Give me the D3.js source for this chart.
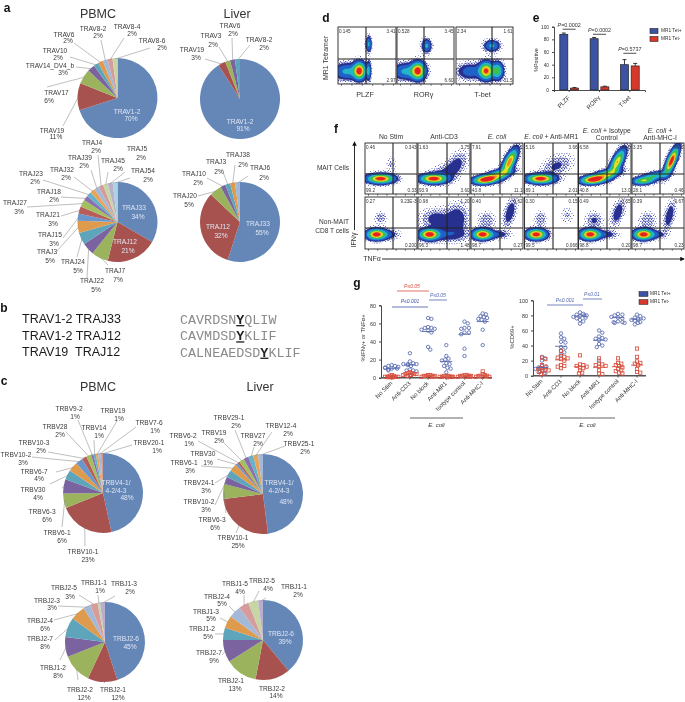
<!DOCTYPE html>
<html><head><meta charset="utf-8">
<script src="https://cdn.jsdelivr.net/npm/d3@7/dist/d3.min.js"></script>
<style>
html,body{margin:0;padding:0;background:#fff}
svg{display:block;filter:blur(0.35px)}
text{font-family:"Liberation Sans",Arial,sans-serif;fill:#333}
</style></head><body>
<svg id="c" width="685" height="702" viewBox="0 0 685 702"></svg>
<script>
// ---------- DATA: pies ----------
const travPbmcNames=["TRAV1-2","TRAV19","TRAV17","TRAV14_DV4_b","TRAV10","TRAV6","TRAV8-2","TRAV8-4","TRAV8-6"];
const travPbmcValues=[70,11,6,3,2,2,2,2,2];
const travLiverNames=["TRAV1-2","TRAV19","TRAV3","TRAV6","TRAV8-2"];
const travLiverValues=[91,3,2,2,2];
const trajPbmcNames=["TRAJ33","TRAJ12","TRAJ7","TRAJ22","TRAJ24","TRAJ3","TRAJ15","TRAJ21","TRAJ27","TRAJ18","TRAJ23","TRAJ32","TRAJ39","TRAJ4","TRAJ45","TRAJ5","TRAJ54"];
const trajPbmcValues=[34,21,7,5,5,5,3,3,3,2,2,2,2,2,2,2,2];
const trajLiverNames=["TRAJ33","TRAJ12","TRAJ20","TRAJ10","TRAJ3","TRAJ38","TRAJ6"];
const trajLiverValues=[55,32,5,2,2,2,2];
const trbvPbmcNames=["TRBV4-1/\n4-2/4-3","TRBV10-1","TRBV6-1","TRBV6-3","TRBV30","TRBV6-7","TRBV10-2","TRBV10-3","TRBV28","TRBV9-2","TRBV14","TRBV19","TRBV7-6","TRBV20-1"];
const trbvPbmcValues=[48,23,6,6,4,4,3,2,2,1,1,1,1,1];
const trbvLiverNames=["TRBV4-1/\n4-2/4-3","TRBV10-1","TRBV6-3","TRBV10-2","TRBV24-1","TRBV6-1","TRBV30","TRBV6-2","TRBV19","TRBV29-1","TRBV27","TRBV12-4","TRBV25-1"];
const trbvLiverValues=[48,25,6,3,3,3,1,1,2,2,2,2,2];
const trbjPbmcNames=["TRBJ2-6","TRBJ2-1","TRBJ2-2","TRBJ1-2","TRBJ2-7","TRBJ2-4","TRBJ2-3","TRBJ2-5","TRBJ1-1","TRBJ1-3"];
const trbjPbmcValues=[45,12,12,8,8,6,3,3,1,2];
const trbjLiverNames=["TRBJ2-6","TRBJ2-2","TRBJ2-1","TRBJ2-7","TRBJ1-2","TRBJ1-3","TRBJ2-4","TRBJ1-5","TRBJ2-5","TRBJ1-1"];
const trbjLiverValues=[39,14,13,9,5,5,5,4,4,2];
// label placement (line centres, then optional leader start)
const travPbmcPos=[[127,112,131,119],[52,131,56,137,63,126],[56.5,93,49,101,47,87],[50,66,63,73,76,67],[55,51,58,58,70,57],[64,35,68,41,74,43],[93,29,98,36,101,40],[127,27,132,34,124,38],[152,41,162,48,150,48]];
const travLiverPos=[[240,122,243,129],[192,50,196,58,205,59],[211,36,213,45,219,47],[230,26,233,34,232,38],[259,40,264,48,250,45]];
const trajPbmcPos=[[134,208,138,217],[125,242,128,251],[115,271,118,280,108,265],[92,281,96,290,87,278],[73,262,78,271,77,257],[47,252,50,261,57,251],[50,235,54,244,63,238],[48,215,53,224,61,216],[15,203,19,212,27,207],[49,192,54,200,61,197],[31,174,35,182,43,180],[62,170,66,178,74,177],[80,158,84,166,91,170],[92,143,96,151,98,155],[113,161,118,169,108,172],[137,149,141,158,125,172],[143,171,148,180,130,178]];
const trajLiverPos=[[258,224,262,233],[218,227,221,236],[185,196,189,205,198,196],[194,174,198,183,207,178],[216,162,219,172,223,172],[238,155,243,165,235,165],[260,168,264,178,248,176]];
const trbvPbmcPos=[[116,483,116,491,127,498],[83,552,88,560,85,546],[57,533,62,541,62,527],[42,512,47,520,62,488],[33,490,38,498,50,484],[34,472,39,479,56,472],[16,455,23,463,32,457],[34,443,41,451,48,452],[55,427,60,435,66,432],[69,409,75,417,78,420],[94,428,99,436,94,440],[113,411,119,419,117,421],[149,423,155,431,136,427],[149,443,157,451,132,445]];
const trbvLiverPos=[[279,483,279,491,286,502],[233,538,238,546,236,533],[212,520,215,528,226,513],[199,502,206,510,215,505],[199,483,206,491,215,483],[184,463,190,471,201,466],[203,454,208,463,217,459],[183,436,189,444,198,441],[214,433,219,441,224,443],[229,418,236,426,235,430],[253,436,258,444,254,447],[281,426,288,434,272,432],[299,444,305,452,285,446]];
const trbjPbmcPos=[[126,639,130,647],[113,690,118,698,105,683],[80,690,84,698,78,680],[53,668,58,676,60,660],[40,639,45,647,55,640],[40,621,45,629,54,620],[47,601,52,608,58,606],[64,588,70,597,79,595],[94,583,100,591,98,595],[124,584,130,592,115,596]];
const trbjLiverPos=[[281,634,285,642],[272,689,276,696],[231,681,235,689],[209,653,214,661,222,655],[202,629,208,637,215,634],[206,612,211,619,220,618],[217,597,222,604,229,606],[235,584,240,592,244,595],[262,581,268,589,259,591],[294,587,298,595,266,598]];

const paletteShort=["#6587b8","#a8524f","#9bb35c","#7b639f","#5ea4bb","#df9b4d","#a4b8d8","#d69c9b","#c6d6a5","#b8aecd"];
const paletteLong=["#6587b8","#a8524f","#9bb35c","#7b639f","#5ea4bb","#df9b4d","#6a96cc","#b85e5a","#a3c05f","#8a70ae","#64b2cb","#e8a458","#a4b8d8","#d69c9b","#c6d6a5","#b8aecd","#a9d3de"];

// ---------- DATA: bars (e) ----------
const barCategories=["PLZF","ROR\u03b3","T-bet"];
const barGroups=["MR1 Tet+","MR1 Tet-"];
const barTetPos=[88,81,40];
const barTetNeg=[3,5,38];
const barErrPos=[2,2,8];
const barErrNeg=[1,1,4];
const barPvalues=["P=0.0002","P=0.0002","P=0.5737"];
const barPheights=[96,88,58];
const barTicks=[0,20,40,60,80,100];

// ---------- DATA: scatter (g) ----------
const gCategories=["No Stim","Anti-CD3","No block","Anti-MR1","Isotype control","Anti-MHC-I"];
const ifnBlue=[[14,13,13,12,11,11,10,10,9,8],[27,18,16,15,15,15,14,13,9,8,8,7],[66,65,56,55,55,54,53,52,50,34,31],[36,24,21,20,19,16,15,13,11,10,6],[62,60,55,55,54,50,50,48,32,24],[71,70,68,67,66,65,64,62,53,36]];
const ifnRed=[[3,2,2,1,1,1,1,0.5,0.5,0.5],[6,5,5,4,4,4,3,3,3,2],[3,3,2,2,2,2,1,1,1],[2,2,2,1,1,1,1,1,0.5],[3,3,2,2,2,2,1,1,1],[7,4,3,2,2,2,1,1,1]];
const ifnBlueMean=[10,14,51,18,48,62];
const ifnRedMean=[1,4,2,1,2,2];
const cd69Blue=[[25,23,20,13,12,11,10,9,7,5,3],[56,51,49,45,44,38,37,33,31,28],[84,82,81,80,80,79,78,77,76,74,72,69],[60,57,52,50,49,48,47,42,40,38,20],[82,81,80,78,77,76,72,71,71,70,70],[81,79,77,76,75,74,73,71,70,68]];
const cd69Red=[[24,22,14,12,10,9,8,7,6,5,3,2],[33,26,25,24,23,22,20,14,13,12,10],[27,15,14,13,12,11,10,7,4,3],[23,16,15,14,13,12,7,3,2],[23,17,16,14,13,11,9,7,6,4,3],[36,25,19,17,16,14,9,5,4]];
const cd69BlueMean=[11,39,79,47,77,75];
const cd69RedMean=[9,21,12,11,12,14];
const ifnTicks=[0,20,40,60,80];
const cd69Ticks=[0,20,40,60,80,100];

// ---------- DATA: flow panels ----------
// each population: x, y, sdX, sdY, tilt, peak (panel fractions)
const flowD=[
 [[.37,.77,.065,.09,0,.95],[.15,.78,.14,.085,0,.3],[.53,.77,.025,.1,0,.3],[.53,.3,.03,.08,0,.3]],
 [[.37,.77,.075,.09,0,.95],[.15,.78,.14,.085,0,.3],[.52,.33,.05,.07,0,.3]],
 [[.53,.77,.075,.09,0,.9],[.73,.77,.06,.09,0,.5],[.25,.78,.14,.085,0,.2],[.63,.33,.08,.06,0,.3]]
];
const flowDLabels=[["0.145","3.41","","2.97"],["0.528","3.45","","6.60"],["2.34","1.61","","31.5"]];
const flowDNames=["PLZF","ROR\u03b3","T-bet"];
const flowColumns=["No Stim","Anti-CD3","E. coli","E. coli + Anti-MR1","E. coli + Isotype|Control","E. coli +|Anti-MHC-I"];
const flowMait=[
 [[.30,.70,.15,.055,0,1],[.5,.42,.06,.1,0,.04]],
 [[.30,.70,.15,.055,0,1],[.72,.45,.14,.17,.5,.1],[.47,.57,.16,.09,.3,.06]],
 [[.28,.72,.14,.05,.2,.95],[.74,.37,.09,.15,.7,.85],[.5,.63,.17,.07,.6,.6]],
 [[.30,.70,.15,.055,0,1],[.6,.45,.18,.14,.4,.08]],
 [[.28,.72,.14,.05,.2,.95],[.74,.37,.09,.15,.7,.75],[.5,.63,.17,.07,.6,.6]],
 [[.22,.74,.13,.045,.2,.6],[.76,.35,.08,.16,.75,1],[.45,.64,.15,.05,.4,.4]]
];
const flowNon=[
 [[.22,.72,.11,.06,0,1],[.3,.4,.07,.07,0,.07],[.45,.72,.12,.06,0,.12]],
 [[.22,.72,.11,.06,0,1],[.55,.72,.27,.09,0,.12],[.35,.42,.18,.12,0,.1],[.75,.42,.13,.17,0,.12]],
 [[.22,.72,.11,.06,0,1],[.3,.45,.1,.1,0,.07],[.75,.3,.08,.17,.5,.12],[.5,.72,.15,.05,0,.12]],
 [[.22,.72,.11,.06,0,1],[.3,.42,.07,.09,0,.07],[.8,.35,.08,.1,0,.04]],
 [[.22,.72,.11,.06,0,1],[.3,.45,.1,.1,0,.08],[.75,.3,.08,.15,.5,.12],[.5,.72,.15,.05,0,.12]],
 [[.22,.72,.11,.06,0,1],[.3,.45,.1,.1,0,.07],[.72,.36,.07,.17,.5,.12],[.45,.72,.13,.05,0,.12]]
];
const flowMaitLabels=[["0.46","0.343","99.2","0.33"],["1.63","3.75","93.9","3.60"],["7.91","37.2","43.8","11.1"],["5.16","3.66","89.1","2.01"],["6.58","39.6","40.8","13.0"],["3.35","68.5","28.1","0.46"]];
const flowNonLabels=[["0.27","9.23E-3","","0.200"],["0.98","1.20","96.3","1.48"],["0.40","0.62","98.7","0.27"],["0.30","0.15","99.5","0.066"],["0.49","0.55","98.8","0.20"],["0.39","0.67","98.7","0.23"]];
const bandLevels=[.012,.035,.07,.13,.26,.42,.6,.74,.85];
const bandColors=["url(#sparse)","url(#dense)","#27308f","#1f62c8","#22b4c8","#3cc04c","#e4e02a","#f28a1e","#e6201e"];

// ---------- DRAW ----------
const svg=d3.select("#c");
const defs=svg.append("defs");
function stipple(id,size,cells,color){
  const p=defs.append("pattern").attr("id",id).attr("width",size).attr("height",size).attr("patternUnits","userSpaceOnUse");
  cells.forEach(c=>p.append("rect").attr("x",c[0]).attr("y",c[1]).attr("width",.9).attr("height",.9).attr("fill",color));
}
stipple("sparse",5,[[0,1],[3,0],[1.5,3],[4,3.5]],"#3a47ae");
stipple("dense",3,[[0,0],[1.5,.8],[.6,2],[2.2,2.2]],"#2a339c");

function text(x,y,s,o={}){
  const t=(o.g||svg).append("text").attr("x",x).attr("y",y).attr("dominant-baseline","middle")
    .attr("text-anchor",o.anchor||"middle").style("font-size",(o.size||6.6)+"px").text(s);
  if(o.fill)t.style("fill",o.fill);
  if(o.weight)t.style("font-weight",o.weight);
  if(o.italic)t.style("font-style","italic");
  if(o.rot!=null)t.attr("transform",`rotate(${o.rot} ${x} ${y})`);
  return t;
}

function drawPie(cx,cy,names,values,pos,palette,inside){
  const r=40;
  const g=svg.append("g").attr("transform",`translate(${cx},${cy})`);
  const arcs=d3.pie().sort(null)(values);
  const arc=d3.arc().innerRadius(0).outerRadius(r);
  g.selectAll("path").data(arcs).join("path").attr("d",arc).attr("fill",(d,i)=>palette[i%palette.length]);
  names.forEach((n,i)=>{
    const lines=(n+"\n"+values[i]+"%").split("\n"), p=pos[i];
    lines.forEach((s,k)=>text(p[2*k],p[2*k+1],s,{fill:i<inside?"#dfe6f2":"#3a3a3a"}));
    if(p.length===2*lines.length+2){
      const a=(arcs[i].startAngle+arcs[i].endAngle)/2;
      svg.append("line").attr("x1",p[p.length-2]).attr("y1",p[p.length-1])
        .attr("x2",cx+Math.sin(a)*(r-1)).attr("y2",cy-Math.cos(a)*(r-1))
        .attr("stroke","#8a8a8a").attr("stroke-width",.55);
    }
  });
}
drawPie(117.5,98,travPbmcNames,travPbmcValues,travPbmcPos,paletteShort,1);
drawPie(240,99,travLiverNames,travLiverValues,travLiverPos,paletteShort,1);
drawPie(117.5,222,trajPbmcNames,trajPbmcValues,trajPbmcPos,paletteLong,2);
drawPie(240,222,trajLiverNames,trajLiverValues,trajLiverPos,paletteShort,2);
drawPie(103,493,trbvPbmcNames,trbvPbmcValues,trbvPbmcPos,paletteLong,1);
drawPie(263,494,trbvLiverNames,trbvLiverValues,trbvLiverPos,paletteLong,1);
drawPie(105,642,trbjPbmcNames,trbjPbmcValues,trbjPbmcPos,paletteShort,1);
drawPie(263,640,trbjLiverNames,trbjLiverValues,trbjLiverPos,paletteShort,1);

[["a",7,9],["b",4,309],["c",4,382],["d",326,19],["e",536,19],["f",336,130],["g",357,284]]
  .forEach(d=>text(d[1],d[2],d[0],{size:12,weight:"bold",fill:"#111"}));
[["PBMC",98,15],["Liver",237,15],["PBMC",98,388],["Liver",260,388]].forEach(d=>text(d[1],d[2],d[0],{size:12.5}));

// panel b
const bRows=["TRAV1-2 TRAJ33","TRAV1-2 TRAJ12","TRAV19  TRAJ12"];
const bSeqs=[["CAVRDSN","Y","QLIW"],["CAVMDSD","Y","KLIF"],["CALNEAEDSD","Y","KLIF"]];
bRows.forEach((s,i)=>{
  const y=320+i*16.3;
  text(22,y,s,{anchor:"start",size:12.5,fill:"#1a1a1a"}).style("white-space","pre");
  const t=svg.append("text").attr("x",180).attr("y",y).attr("dominant-baseline","middle").style("font-size","13.4px").style("font-family",'"Liberation Mono",monospace');
  t.append("tspan").text(bSeqs[i][0]).style("fill","#8a8a8a");
  t.append("tspan").text(bSeqs[i][1]).style("fill","#222").style("font-weight","bold").style("text-decoration","underline");
  t.append("tspan").text(bSeqs[i][2]).style("fill","#8a8a8a");
});

// flow panels
let clipN=0;
function flowPanel(x0,y0,x1,y1,pops,labels,gx,gy){
  const nx=90,ny=90, w=x1-x0,h=y1-y0;
  const vals=new Float64Array(nx*ny);
  for(let j=0;j<ny;j++)for(let i=0;i<nx;i++){
    const u=(i+.5)/nx,v=(j+.5)/ny; let s=0;
    pops.forEach(p=>{
      const dx=(u-p[0])/p[2],dy=(v-p[1])/p[3],rho=p[4];
      s+=p[5]*Math.exp(-.5*(dx*dx+dy*dy+2*rho*dx*dy)/(1-rho*rho));
    });
    vals[j*nx+i]=s;
  }
  const sx=d3.scaleLinear().domain([0,nx]).range([x0,x1]);
  const sy=d3.scaleLinear().domain([0,ny]).range([y0,y1]);
  const path=d3.geoPath(d3.geoTransform({point(a,b){this.stream.point(sx(a),sy(b));}}));
  const id="cp"+(clipN++);
  defs.append("clipPath").attr("id",id).append("rect").attr("x",x0).attr("y",y0).attr("width",w).attr("height",h);
  const g=svg.append("g").attr("clip-path",`url(#${id})`);
  g.append("rect").attr("x",x0).attr("y",y0).attr("width",w).attr("height",h).attr("fill","#fff");
  g.selectAll("path").data(d3.contours().size([nx,ny]).thresholds(bandLevels)(vals)).join("path")
    .attr("d",path).attr("fill",(d,i)=>bandColors[i]);
  svg.append("rect").attr("x",x0).attr("y",y0).attr("width",w).attr("height",h).attr("fill","none").attr("stroke","#222").attr("stroke-width",.9);
  svg.append("line").attr("x1",x0).attr("x2",x1).attr("y1",gy).attr("y2",gy).attr("stroke","#222").attr("stroke-width",1.1);
  svg.append("line").attr("x1",gx).attr("x2",gx).attr("y1",y0).attr("y2",y1).attr("stroke","#222").attr("stroke-width",1.1);
  const ax=d3.scaleLinear().domain([0,5]).range([x0+3,x1-3]);
  svg.append("g").attr("transform",`translate(0,${y1})`).call(d3.axisBottom(ax).ticks(5).tickSize(1.8).tickFormat("")).call(s=>s.select(".domain").remove()).selectAll("line").attr("stroke","#222").attr("stroke-width",.6);
  const fs=4.6;
  text(x0+1,y0+4.5,labels[0],{anchor:"start",size:fs});
  text(x1-.5,y0+4.5,labels[1],{anchor:"end",size:fs});
  text(x0+1,y1-3.5,labels[2],{anchor:"start",size:fs});
  text(x1-.5,y1-3.5,labels[3],{anchor:"end",size:fs});
}
[[338,396,366],[397,454,424],[456,513,492]].forEach((p,i)=>{
  flowPanel(p[0],27,p[1],84,flowD[i],flowDLabels[i],p[2],59);
  text((p[0]+p[1])/2-2,95,flowDNames[i],{size:7.2});
});
text(326,58,"MR1 Tetramer",{size:7,rot:-90});

const fCols=[[365,417,393],[418,470,447],[471,523,500],[524.5,578,553],[578.5,631,607],[632,684,660]];
fCols.forEach((c,i)=>{
  flowPanel(c[0],143,c[1],194,flowMait[i],flowMaitLabels[i],c[2],174);
  flowPanel(c[0],197,c[1],249,flowNon[i],flowNonLabels[i],c[2],228);
  const parts=flowColumns[i].split("|");
  parts.forEach((s,k)=>{
    const y=parts.length===1?137:(131+k*7);
    const t=text((c[0]+c[1])/2+(i>3?2:0),y,"",{size:6.8});
    if(s.startsWith("E. coli")){
      t.append("tspan").text("E. coli").style("font-style","italic");
      t.append("tspan").text(s.slice(7));
    } else t.text(s);
  });
});
text(349,168,"MAIT Cells",{anchor:"end",size:6.6});
text(349,222,"Non-MAIT",{anchor:"end",size:6.6});
text(349,231,"CD8 T cells",{anchor:"end",size:6.6});
text(354,240,"IFN\u03b3",{size:7,rot:-90});
text(372,259,"TNF\u03b1",{size:7});
defs.append("marker").attr("id","ah").attr("viewBox","0 0 6 6").attr("refX",5).attr("refY",3).attr("markerWidth",5).attr("markerHeight",5).attr("orient","auto").append("path").attr("d","M0,0L6,3L0,6Z").attr("fill","#111");
svg.append("line").attr("x1",354.5).attr("x2",354.5).attr("y1",230).attr("y2",142).attr("stroke","#111").attr("stroke-width",.9).attr("marker-end","url(#ah)");
svg.append("line").attr("x1",382).attr("x2",684).attr("y1",259).attr("y2",259).attr("stroke","#111").attr("stroke-width",.9).attr("marker-end","url(#ah)");

// panel e
const BLUE="#3c52a2",RED="#d8382c";
const eY=d3.scaleLinear().domain([0,100]).range([90,26.7]);
const eX=d3.scaleBand().domain(barCategories).range([554,645]);
const eX1=d3.scaleBand().domain(barGroups).range([0,eX.bandwidth()]).paddingInner(.25).paddingOuter(.54);
const eAxisY=svg.append("g").attr("transform","translate(554,0)").call(d3.axisLeft(eY).tickValues(barTicks).tickSize(2));
const eAxisX=svg.append("g").attr("transform","translate(0,90)").call(d3.axisBottom(eX).tickSize(2).tickFormat(""));
[eAxisY,eAxisX].forEach(a=>{a.selectAll("path,line").attr("stroke","#222").attr("stroke-width",.8);a.selectAll("text").style("font-size","4.8px").style("font-family","Liberation Sans");});
barCategories.forEach((c,i)=>{
  [[barTetPos,barErrPos,BLUE,0],[barTetNeg,barErrNeg,RED,1]].forEach(s=>{
    const x=eX(c)+eX1(barGroups[s[3]]),w=eX1.bandwidth(),v=s[0][i],e=s[1][i];
    svg.append("line").attr("x1",x+w/2).attr("x2",x+w/2).attr("y1",eY(v)).attr("y2",eY(v+e)).attr("stroke","#222").attr("stroke-width",.9);
    svg.append("line").attr("x1",x+w*.25).attr("x2",x+w*.75).attr("y1",eY(v+e)).attr("y2",eY(v+e)).attr("stroke","#222").attr("stroke-width",.9);
    svg.append("rect").attr("x",x).attr("y",eY(v)).attr("width",w).attr("height",eY(0)-eY(v)).attr("fill",s[2]).attr("stroke","#222").attr("stroke-width",.7);
  });
  const mx=eX(c)+eX.bandwidth()/2;
  text(mx,97,c,{size:6,anchor:"end",rot:-45});
  svg.append("line").attr("x1",mx-6.5).attr("x2",mx+6.5).attr("y1",eY(barPheights[i])).attr("y2",eY(barPheights[i])).attr("stroke","#222").attr("stroke-width",.8);
  const t=text(mx,eY(barPheights[i])-3,"",{size:5.4});
  t.append("tspan").text("P").style("font-style","italic");
  t.append("tspan").text(barPvalues[i].slice(1));
});
text(537,60,"%Positive",{size:5.4,rot:-90});
barGroups.forEach((g,i)=>{
  svg.append("rect").attr("x",650).attr("y",28.5+i*8).attr("width",8).attr("height",5).attr("fill",i?RED:BLUE).attr("stroke","#222").attr("stroke-width",.6);
  text(661,31+i*8,g,{anchor:"start",size:4.8});
});

// panel g swarm
function dodge(values,scale,space){
  const placed=[];
  const cands=[0];
  for(let k=1;k<=6;k++)cands.push(k*1.1,-k*1.1);
  return values.map((v,n)=>{
    const y=scale(v);
    let dx=cands.find(c=>placed.every(p=>(p[0]-c)**2+(p[1]-y)**2>=space*space));
    if(dx===undefined)dx=cands[(n*5)%cands.length];
    placed.push([dx,y]);
    return [dx,y];
  });
}
function drawSwarm(o){
  const y=d3.scaleLinear().domain([0,o.max]).range([o.y0,o.y1]);
  const x=d3.scalePoint().domain(gCategories).range(o.x);
  const ax=svg.append("g").attr("transform",`translate(${o.ax},0)`).call(d3.axisLeft(y).tickValues(o.ticks).tickSize(2));
  ax.selectAll("path,line").attr("stroke","#333").attr("stroke-width",.9);
  ax.selectAll("text").style("font-size","5.4px").style("font-family","Liberation Sans");
  svg.append("line").attr("x1",o.ax).attr("x2",o.x2).attr("y1",o.y0).attr("y2",o.y0).attr("stroke","#555").attr("stroke-width",1.4);
  gCategories.forEach((c,i)=>{
    const cx=x(c);
    svg.append("line").attr("x1",cx).attr("x2",cx).attr("y1",o.y0).attr("y2",o.y0+2).attr("stroke","#333").attr("stroke-width",.7);
    text(cx,o.y0+5,c,{anchor:"end",size:6,rot:-45});
    svg.selectAll(null).data(dodge(o.blue[i],y,o.bs)).join("circle").attr("cx",d=>cx+d[0]).attr("cy",d=>d[1]).attr("r",1.7).attr("fill","none").attr("stroke","#5568ae").attr("stroke-width",.85);
    svg.selectAll(null).data(dodge(o.red[i],y,o.rs)).join("rect").attr("x",d=>cx+d[0]-1.6).attr("y",d=>d[1]-1.6).attr("width",3.2).attr("height",3.2).attr("fill","none").attr("stroke","#d8503f").attr("stroke-width",.85);
    [[o.bm,"#5568ae"],[o.rm,"#d8503f"]].forEach(m=>{
      svg.append("line").attr("x1",cx-6).attr("x2",cx+6).attr("y1",y(m[0][i])).attr("y2",y(m[0][i])).attr("stroke",m[1]).attr("stroke-width",.9);
    });
  });
  svg.append("line").attr("x1",o.lx[0]).attr("x2",o.lx[1]).attr("y1",418).attr("y2",418).attr("stroke","#555").attr("stroke-width",.9);
  text((o.lx[0]+o.lx[1])/2,425,"E. coli",{size:6,italic:true});
  text(o.tx,o.ty,o.title,{size:5.8,rot:-90});
}
drawSwarm({max:80,y0:377.7,y1:305.3,x:[391.7,482.7],ax:381,x2:492,ticks:ifnTicks,blue:ifnBlue,red:ifnRed,bm:ifnBlueMean,rm:ifnRedMean,lx:[410,463],tx:363,ty:338,title:"%IFN\u03b3+ or TNF\u03b1+",bs:3.4,rs:2.2});
drawSwarm({max:100,y0:375.7,y1:300.3,x:[542,637],ax:533,x2:646,ticks:cd69Ticks,blue:cd69Blue,red:cd69Red,bm:cd69BlueMean,rm:cd69RedMean,lx:[560,615],tx:512,ty:337,title:"%CD69+",bs:3.4,rs:3});
const pNotes=[["P\u22640.05",412,287,397,429,291,"#d8503f"],["P\u22640.001",410,302,392,428,307,"#3f52a4"],["P\u22640.05",438,295.5,429,447,300,"#5568ae"],["P\u22640.001",565,301,547,583,305,"#5568ae"],["P\u22640.01",592,295,583,602,299,"#5568ae"]];
pNotes.forEach(p=>{
  svg.append("line").attr("x1",p[3]).attr("x2",p[4]).attr("y1",p[5]).attr("y2",p[5]).attr("stroke",p[6]).attr("stroke-width",.8);
  text(p[1],p[2],p[0],{size:5,fill:p[6]}).style("font-style","italic");
});
[["MR1 Tet+",BLUE,294],["MR1 Tet-",RED,302]].forEach(d=>{
  svg.append("rect").attr("x",639).attr("y",d[2]-2.5).attr("width",9).attr("height",5).attr("fill",d[1]).attr("stroke","#222").attr("stroke-width",.5);
  text(650,d[2],d[0],{anchor:"start",size:4.8});
});
</script></body></html>
